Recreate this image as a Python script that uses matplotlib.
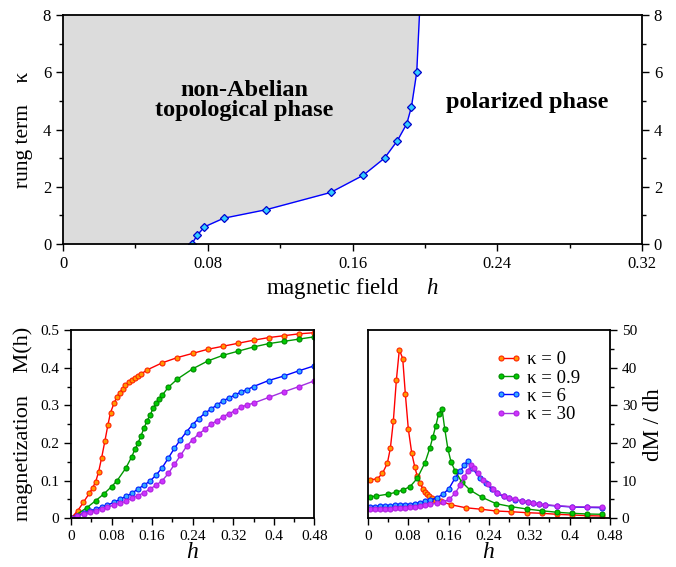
import matplotlib
matplotlib.use('Agg')
import matplotlib.pyplot as plt
from matplotlib.ticker import MultipleLocator

plt.rcParams['font.family'] = ['Liberation Serif', 'DejaVu Serif']
plt.rcParams['mathtext.fontset'] = 'custom'
plt.rcParams['mathtext.it'] = 'Liberation Serif:italic'
plt.rcParams['mathtext.rm'] = 'Liberation Serif'

# Phase boundary h_c(kappa)
h_c = [0.0712, 0.0741, 0.0782, 0.0888, 0.1124, 0.1479, 0.1659, 0.1777, 0.1847, 0.1900, 0.1926, 0.1955]
kappa_c = [0, 0.3, 0.6, 0.9, 1.2, 1.8, 2.4, 3.0, 3.6, 4.2, 4.8, 6.0]
h_c_top = 0.197
kappa_top = 8

# Magnetization curves M(h)
h_M0 = [0, 0.0132, 0.0243, 0.036, 0.0427, 0.0487, 0.0546, 0.0605, 0.067, 0.073, 0.078, 0.0848, 0.090,
        0.096, 0.102, 0.107, 0.114, 0.120, 0.1256, 0.132, 0.138, 0.150, 0.180, 0.210, 0.240, 0.270,
        0.300, 0.330, 0.360, 0.390, 0.420, 0.450, 0.480]
M0 = [0, 0.020, 0.042, 0.066, 0.081, 0.097, 0.124, 0.161, 0.206, 0.249, 0.281, 0.305, 0.321, 0.334,
      0.344, 0.353, 0.361, 0.368, 0.373, 0.379, 0.383, 0.394, 0.413, 0.427, 0.438, 0.449, 0.457,
      0.465, 0.473, 0.480, 0.485, 0.490, 0.493]
h_M1 = [0, 0.031, 0.049, 0.065, 0.080, 0.091, 0.108, 0.120, 0.126, 0.132, 0.138, 0.144, 0.150, 0.156,
        0.162, 0.168, 0.174, 0.180, 0.192, 0.210, 0.240, 0.270, 0.300, 0.330, 0.360, 0.390, 0.420,
        0.450, 0.480]
M1 = [0, 0.028, 0.047, 0.065, 0.084, 0.100, 0.133, 0.164, 0.183, 0.199, 0.219, 0.239, 0.259, 0.274,
      0.292, 0.305, 0.316, 0.327, 0.348, 0.370, 0.397, 0.418, 0.433, 0.444, 0.455, 0.464, 0.470,
      0.476, 0.482]
h_M6 = [0, 0.0125, 0.0256, 0.0375, 0.049, 0.0605, 0.0717, 0.084, 0.0966, 0.108, 0.120, 0.132, 0.144,
        0.156, 0.168, 0.180, 0.192, 0.204, 0.216, 0.228, 0.240, 0.252, 0.264, 0.276, 0.288, 0.300,
        0.312, 0.324, 0.336, 0.348, 0.360, 0.390, 0.420, 0.450, 0.480]
M6 = [0, 0.007, 0.013, 0.019, 0.024, 0.030, 0.035, 0.042, 0.050, 0.058, 0.066, 0.078, 0.088, 0.099,
      0.115, 0.1345, 0.160, 0.186, 0.209, 0.230, 0.249, 0.265, 0.279, 0.290, 0.301, 0.312, 0.320,
      0.328, 0.336, 0.342, 0.350, 0.366, 0.378, 0.392, 0.405]
h_M30 = h_M6
M30 = [0, 0.006, 0.011, 0.016, 0.020, 0.026, 0.029, 0.035, 0.040, 0.045, 0.054, 0.060, 0.068, 0.078,
       0.088, 0.100, 0.119, 0.143, 0.167, 0.191, 0.209, 0.224, 0.236, 0.250, 0.259, 0.270, 0.278,
       0.286, 0.296, 0.301, 0.306, 0.321, 0.336, 0.350, 0.365]

# Susceptibility dM/dh
h_d0 = [0.0046, 0.019, 0.029, 0.0388, 0.0448, 0.0507, 0.0567, 0.0626, 0.0693, 0.0745, 0.0804, 0.0872,
        0.0931, 0.098, 0.104, 0.1096, 0.1135, 0.1175, 0.122, 0.1268, 0.134, 0.145, 0.165, 0.194,
        0.225, 0.254, 0.284, 0.315, 0.345, 0.375, 0.405, 0.435, 0.465]
d0 = [10.2, 10.5, 11.9, 14.6, 18.6, 25.8, 36.7, 44.8, 42.4, 33.0, 23.7, 17.3, 13.7, 11.2, 9.3, 7.7,
      7.1, 6.45, 5.9, 5.3, 4.9, 4.5, 3.6, 2.8, 2.4, 1.94, 1.75, 1.49, 1.33, 1.06, 0.88, 0.7, 0.6]
h_d1 = [0.0046, 0.0158, 0.0396, 0.0555, 0.0693, 0.0838, 0.098, 0.1135, 0.1234, 0.1288, 0.1347, 0.1406,
        0.1472, 0.1525, 0.1587, 0.165, 0.173, 0.186, 0.2027, 0.226, 0.254, 0.284, 0.315, 0.345, 0.375,
        0.405, 0.435, 0.465]
d1 = [5.7, 5.9, 6.4, 6.9, 7.5, 8.4, 10.6, 14.8, 18.8, 21.5, 24.5, 27.8, 29.0, 23.8, 18.5, 15.0, 12.6,
      9.7, 7.5, 5.6, 3.9, 3.1, 2.47, 2.0, 1.6, 1.33, 1.14, 1.06]
h_d6 = [0.0046, 0.0145, 0.0244, 0.0343, 0.0442, 0.054, 0.064, 0.0739, 0.0838, 0.0937, 0.1036, 0.1135,
        0.1234, 0.1367, 0.150, 0.161, 0.173, 0.183, 0.191, 0.198, 0.207, 0.2218, 0.234, 0.246, 0.257,
        0.269, 0.2805, 0.292, 0.305, 0.317, 0.328, 0.340, 0.352, 0.375, 0.405, 0.435, 0.465]
d6 = [3.1, 3.1, 3.2, 3.2, 3.3, 3.4, 3.4, 3.5, 3.6, 3.9, 4.1, 4.5, 4.8, 5.4, 6.5, 7.9, 10.7, 12.5, 14.1,
      15.2, 13.3, 10.8, 9.3, 7.7, 6.6, 5.8, 5.3, 4.9, 4.6, 4.25, 3.98, 3.7, 3.5, 3.27, 3.0, 2.9, 2.8]
h_d30 = [0.0046, 0.0145, 0.0244, 0.0343, 0.0442, 0.054, 0.064, 0.0739, 0.0838, 0.0937, 0.1036, 0.1135,
         0.1234, 0.1367, 0.1485, 0.161, 0.173, 0.183, 0.191, 0.198, 0.2046, 0.211, 0.219, 0.229, 0.239,
         0.249, 0.257, 0.269, 0.2805, 0.292, 0.305, 0.317, 0.328, 0.340, 0.352, 0.375, 0.405, 0.435, 0.465]
d30 = [2.5, 2.5, 2.5, 2.6, 2.6, 2.7, 2.7, 2.8, 2.9, 3.0, 3.2, 3.4, 3.7, 4.0, 4.25, 5.0, 6.6, 8.8, 10.9,
       12.6, 14.1, 13.3, 11.9, 10.2, 9.0, 7.8, 6.8, 6.0, 5.5, 5.0, 4.7, 4.4, 4.1, 3.8, 3.6, 3.35, 3.1,
       3.0, 3.0]

kappa_labels = ['κ = 0', 'κ = 0.9', 'κ = 6', 'κ = 30']

# line colour, marker face, marker edge
styles = [('#ff0000', '#ff9900', '#ff2200'),
          ('#009900', '#00cc00', '#008800'),
          ('#0000ff', '#33aaff', '#0022ff'),
          ('#a030e0', '#cc33ff', '#b020e0')]


def style_axis(ax, fs=10):
    ax.tick_params(which='both', direction='out', labelsize=fs, width=1)
    ax.tick_params(which='major', length=5)
    ax.tick_params(which='minor', length=3)
    for sp in ax.spines.values():
        sp.set_linewidth(1.3)


fig = plt.figure(figsize=(6.76, 5.67), dpi=100)

# Phase diagram
ax = fig.add_axes([0.0932, 0.5697, 0.8565, 0.4038])
line_h = h_c + [h_c_top]
line_k = kappa_c + [kappa_top]
ax.fill_betweenx(line_k, 0, line_h, color='#dcdcdc', lw=0)
ax.plot(line_h, line_k, color='#0000ff', lw=1)
ax.plot(h_c, kappa_c, ls='none', marker='D', ms=4, mfc='#33ccff', mec='#0000cc', mew=0.9)
ax.set_xlim(0, 0.32)
ax.set_ylim(0, 8)
ax.set_xticks([0, 0.08, 0.16, 0.24, 0.32])
ax.set_xticklabels(['0', '0.08', '0.16', '0.24', '0.32'])
ax.xaxis.set_minor_locator(MultipleLocator(0.04))
ax.set_yticks([0, 2, 4, 6, 8])
ax.yaxis.set_minor_locator(MultipleLocator(1))
ax.tick_params(axis='y', which='both', left=True, right=True, labelright=True)
style_axis(ax, 12)
ax.set_xlabel('magnetic field     $h$', fontsize=16.5, labelpad=3)
ax.set_ylabel('rung term    κ', fontsize=15.5, labelpad=7)
ax.text(0.1, 5.0, 'non-Abelian\ntopological phase', fontsize=17.5, fontweight='bold',
        ha='center', va='center', linespacing=0.95)
ax.text(0.2567, 4.95, 'polarized phase', fontsize=17.5, fontweight='bold', ha='center', va='center')

# Magnetization
ax1 = fig.add_axes([0.105, 0.0859, 0.36, 0.332])
for (hh, mm), (lc, fc, ec) in zip([(h_M0, M0), (h_M1, M1), (h_M6, M6), (h_M30, M30)], styles):
    ax1.plot(hh, mm, color=lc, lw=1, marker='o', ms=3.6, mfc=fc, mec=ec, mew=0.8)
ax1.set_xlim(0, 0.48)
ax1.set_ylim(0, 0.5)
ax1.set_xticks([0, 0.08, 0.16, 0.24, 0.32, 0.4, 0.48])
ax1.set_xticklabels(['0', '0.08', '0.16', '0.24', '0.32', '0.4', '0.48'])
ax1.xaxis.set_minor_locator(MultipleLocator(0.04))
ax1.set_yticks([0, 0.1, 0.2, 0.3, 0.4, 0.5])
ax1.set_yticklabels(['0', '0.1', '0.2', '0.3', '0.4', '0.5'])
ax1.yaxis.set_minor_locator(MultipleLocator(0.05))
style_axis(ax1, 11)
ax1.set_xlabel('$h$', fontsize=17, labelpad=-1)
ax1.set_ylabel('magnetization    M(h)', fontsize=16, labelpad=5)

# dM/dh
ax2 = fig.add_axes([0.544, 0.0859, 0.3584, 0.332])
handles = []
for (hh, dd), (lc, fc, ec), lab in zip([(h_d0, d0), (h_d1, d1), (h_d6, d6), (h_d30, d30)], styles,
                                      kappa_labels):
    ln, = ax2.plot(hh, dd, color=lc, lw=1, marker='o', ms=3.6, mfc=fc, mec=ec, mew=0.8, label=lab)
    handles.append(ln)
ax2.set_xlim(0, 0.48)
ax2.set_ylim(0, 50)
ax2.set_xticks([0, 0.08, 0.16, 0.24, 0.32, 0.4, 0.48])
ax2.set_xticklabels(['0', '0.08', '0.16', '0.24', '0.32', '0.4', '0.48'])
ax2.xaxis.set_minor_locator(MultipleLocator(0.04))
ax2.set_yticks([0, 10, 20, 30, 40, 50])
ax2.yaxis.set_minor_locator(MultipleLocator(5))
ax2.yaxis.tick_right()
ax2.yaxis.set_label_position('right')
style_axis(ax2, 11)
ax2.set_xlabel('$h$', fontsize=17, labelpad=-1)
ax2.set_ylabel('dM / dh', fontsize=16.5, labelpad=4)
ax2.legend(handles=handles, loc='upper left', bbox_to_anchor=(0.525, 0.889), frameon=False,
           fontsize=13.5, numpoints=2, handlelength=1.4, handletextpad=0.3, labelspacing=0.07,
           borderaxespad=0, borderpad=0)

fig.savefig('out.png', dpi=100)
